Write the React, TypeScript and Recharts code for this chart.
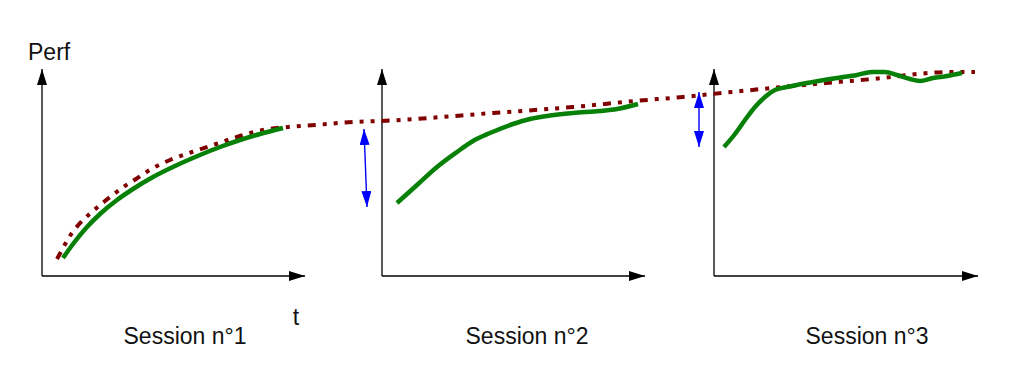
import React from "react";
import { LineChart, Line, XAxis, YAxis, ReferenceLine, ReferenceDot } from "recharts";

// t = time (global), perf = performance above the session baseline
const session1 = [
  { t: 63, perf: 18 }, { t: 73, perf: 32 }, { t: 87, perf: 49 }, { t: 100, perf: 62 },
  { t: 117, perf: 76 }, { t: 133, perf: 87 }, { t: 153, perf: 99 }, { t: 175, perf: 110 },
  { t: 200, perf: 121 }, { t: 220, perf: 129 }, { t: 240, perf: 136 }, { t: 260, perf: 142 },
  { t: 283, perf: 148 },
];

const session2 = [
  { t: 397, perf: 73 }, { t: 417, perf: 91 }, { t: 437, perf: 109 }, { t: 457, perf: 124 },
  { t: 473, perf: 135 }, { t: 490, perf: 143 }, { t: 513, perf: 152 }, { t: 530, perf: 157 },
  { t: 547, perf: 160 }, { t: 573, perf: 163 }, { t: 600, perf: 165 }, { t: 617, perf: 167 },
  { t: 638, perf: 172 },
];

const session3 = [
  { t: 724, perf: 129 }, { t: 735, perf: 142 }, { t: 745, perf: 156 }, { t: 755, perf: 169 },
  { t: 765, perf: 179 }, { t: 775, perf: 186 }, { t: 792, perf: 190 }, { t: 813, perf: 194 },
  { t: 837, perf: 198 }, { t: 857, perf: 201 }, { t: 872, perf: 204 }, { t: 885, perf: 204 },
  { t: 897, perf: 201 }, { t: 910, perf: 197 }, { t: 920, perf: 195 }, { t: 933, perf: 198 },
  { t: 947, perf: 200 }, { t: 962, perf: 203 },
];

const trend = [
  { t: 57, perf: 17 }, { t: 63, perf: 28 }, { t: 68, perf: 37 }, { t: 75, perf: 47 },
  { t: 83, perf: 56 }, { t: 93, perf: 65 }, { t: 105, perf: 75 }, { t: 114, perf: 82 },
  { t: 125, perf: 90 }, { t: 136, perf: 97 }, { t: 145, perf: 103 }, { t: 155, perf: 109 },
  { t: 170, perf: 116 }, { t: 192, perf: 124 }, { t: 216, perf: 132 }, { t: 240, perf: 140 },
  { t: 263, perf: 146 }, { t: 288, perf: 149 }, { t: 315, perf: 151 }, { t: 353, perf: 154 },
  { t: 380, perf: 155 }, { t: 493, perf: 163 }, { t: 573, perf: 169 }, { t: 635, perf: 175 },
  { t: 683, perf: 179 }, { t: 722, perf: 183 }, { t: 793, perf: 190 }, { t: 873, perf: 197 },
  { t: 950, perf: 204 }, { t: 975, perf: 204 },
];

const sessionLabels = ["Session n°1", "Session n°2", "Session n°3"];
const sessionStart = [42, 382, 714];
const sessionEnd = [305, 645, 978];
const labelCenter = [185, 527, 867];
const axisTop = 207;

// drop between the end of one session and the start of the next
const gapArrows = [
  { from: { t: 364, perf: 147 }, to: { t: 367, perf: 69 } },
  { from: { t: 699, perf: 184 }, to: { t: 699, perf: 129 } },
];

const font = "'Liberation Sans', Arial, sans-serif";

const arrowLine = (color: string, width: number, start: boolean, end: string) => (p: any) => (
  <line
    x1={p.x1}
    y1={p.y1}
    x2={p.x2}
    y2={p.y2}
    stroke={color}
    strokeWidth={width}
    markerStart={start ? `url(#${end})` : undefined}
    markerEnd={`url(#${end})`}
  />
);

const textShape = (value: string, anchor: "start" | "middle") => (p: any) => (
  <text x={p.cx} y={p.cy} textAnchor={anchor} fontFamily={font} fontSize={23} fill="#111">
    {value}
  </text>
);

export default function App() {
  return (
    <div style={{ position: "absolute", left: 0, top: 0, background: "#fff" }}>
      <svg width={0} height={0} style={{ position: "absolute" }}>
        <defs>
          <marker id="axisHead" viewBox="0 0 16 10" refX={16} refY={5} markerWidth={16} markerHeight={10}
            markerUnits="userSpaceOnUse" orient="auto-start-reverse">
            <path d="M0,0 L16,5 L0,10 z" fill="#000" />
          </marker>
          <marker id="gapHead" viewBox="0 0 16 10" refX={16} refY={5} markerWidth={16} markerHeight={10}
            markerUnits="userSpaceOnUse" orient="auto-start-reverse">
            <path d="M0,0 L16,5 L0,10 z" fill="#0000ff" />
          </marker>
        </defs>
      </svg>
      <LineChart width={1036} height={372} margin={{ top: 0, right: 0, bottom: 0, left: 0 }}>
        <XAxis type="number" dataKey="t" domain={[0, 1036]} hide allowDataOverflow />
        <YAxis type="number" dataKey="perf" domain={[-96, 276]} hide allowDataOverflow />

        {sessionStart.map((t0, i) => (
          <ReferenceLine key={`y${i}`} segment={[{ x: t0, y: 0 }, { x: t0, y: axisTop }]}
            shape={arrowLine("#000", 1.3, false, "axisHead")} />
        ))}
        {sessionStart.map((t0, i) => (
          <ReferenceLine key={`x${i}`} segment={[{ x: t0, y: 0 }, { x: sessionEnd[i], y: 0 }]}
            shape={arrowLine("#000", 1.3, false, "axisHead")} />
        ))}
        {gapArrows.map((g, i) => (
          <ReferenceLine key={`g${i}`} segment={[{ x: g.from.t, y: g.from.perf }, { x: g.to.t, y: g.to.perf }]}
            shape={arrowLine("#0000ff", 1.4, true, "gapHead")} />
        ))}

        <Line data={trend} dataKey="perf" type="monotone" stroke="#800000" strokeWidth={4}
          strokeDasharray="8 7 4 7 4 7" dot={false} activeDot={false} isAnimationActive={false} />
        <Line data={session1} dataKey="perf" type="monotone" stroke="#078007" strokeWidth={4.5}
          dot={false} activeDot={false} isAnimationActive={false} />
        <Line data={session2} dataKey="perf" type="monotone" stroke="#078007" strokeWidth={4.5}
          dot={false} activeDot={false} isAnimationActive={false} />
        <Line data={session3} dataKey="perf" type="monotone" stroke="#078007" strokeWidth={4.5}
          dot={false} activeDot={false} isAnimationActive={false} />

        <ReferenceDot x={28} y={216} shape={textShape("Perf", "start")} />
        <ReferenceDot x={296} y={-49} shape={textShape("t", "middle")} />
        {sessionLabels.map((s, i) => (
          <ReferenceDot key={s} x={labelCenter[i]} y={-68} shape={textShape(s, "middle")} />
        ))}
      </LineChart>
    </div>
  );
}
